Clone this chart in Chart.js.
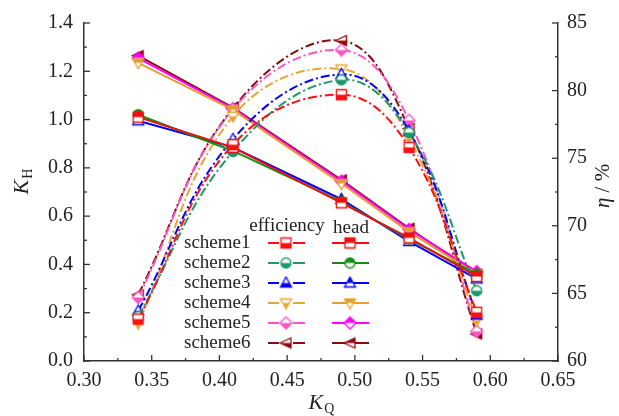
<!DOCTYPE html>
<html>
<head>
<meta charset="utf-8">
<script src="https://cdn.jsdelivr.net/npm/chart.js@4.4.0/dist/chart.umd.min.js"></script>
<style>
  html, body { margin: 0; padding: 0; background: #fff; }
  #wrap { width: 619px; height: 416px; }
</style>
</head>
<body>
<div id="wrap"><canvas id="perf" width="619" height="416"></canvas></div>
<script>
// flow coefficient K_Q at the five operating points
const kq = [0.34, 0.41, 0.49, 0.54, 0.59];

// head coefficient K_H (left axis)
const head1 = [1.01, 0.885, 0.655, 0.51, 0.35];
const head2 = [1.02, 0.87, 0.66, 0.505, 0.36];
const head3 = [0.995, 0.885, 0.67, 0.495, 0.34];
const head4 = [1.235, 1.04, 0.735, 0.535, 0.36];
const head5 = [1.255, 1.045, 0.745, 0.545, 0.37];
const head6 = [1.265, 1.05, 0.75, 0.55, 0.36];

// efficiency η in % (right axis)
const eff1 = [63.1, 76.0, 79.7, 75.8, 63.6];
const eff2 = [63.3, 75.5, 80.8, 76.9, 65.2];
const eff3 = [63.7, 76.4, 81.2, 77.0, 63.4];
const eff4 = [62.8, 78.1, 81.6, 76.5, 63.0];
const eff5 = [64.7, 78.6, 83.0, 77.8, 62.2];
const eff6 = [64.9, 78.7, 83.7, 77.2, 62.0];

const schemeNames = ["scheme1", "scheme2", "scheme3", "scheme4", "scheme5", "scheme6"];

const FONT = "'Liberation Serif', 'Times New Roman', serif";
const INK = "#222";

// half-filled symbols: efficiency filled in the lower half, head in the upper half
function makeMarker(shape, color, fillBottom) {
  const s = 15, m = s / 2, r = 5;
  const c = document.createElement("canvas");
  c.width = c.height = s;
  const g = c.getContext("2d");
  const path = () => {
    g.beginPath();
    if (shape === "square") g.rect(m - r, m - r, 2 * r, 2 * r);
    else if (shape === "circle") g.arc(m, m, r, 0, Math.PI * 2);
    else if (shape === "triUp") {
      g.moveTo(m, m - r - 1); g.lineTo(m + r + 0.5, m + r - 1); g.lineTo(m - r - 0.5, m + r - 1);
    } else if (shape === "triDown") {
      g.moveTo(m, m + r + 1); g.lineTo(m + r + 0.5, m - r + 1); g.lineTo(m - r - 0.5, m - r + 1);
    } else if (shape === "diamond") {
      g.moveTo(m, m - r - 1); g.lineTo(m + r + 1, m); g.lineTo(m, m + r + 1); g.lineTo(m - r - 1, m);
    } else if (shape === "triLeft") {
      g.moveTo(m - r - 1, m); g.lineTo(m + r, m - r); g.lineTo(m + r, m + r);
    }
    g.closePath();
  };
  path(); g.fillStyle = "#fff"; g.fill();
  g.save();
  g.beginPath(); g.rect(0, fillBottom ? m : 0, s, m); g.clip();
  path(); g.fillStyle = color; g.fill();
  g.restore();
  path(); g.strokeStyle = color; g.lineWidth = 1.3; g.stroke();
  return c;
}

const shapes = ["square", "circle", "triUp", "triDown", "diamond", "triLeft"];
const effColors = ["#ff1010", "#1a9a6a", "#0000ff", "#e6a534", "#ff55c4", "#8b0a0a"];
const headColors = ["#ee1010", "#118f11", "#0000ff", "#e2a030", "#ff00ff", "#8b0a0a"];
const heads = [head1, head2, head3, head4, head5, head6];
const effs = [eff1, eff2, eff3, eff4, eff5, eff6];
const EFF_DASH = [9, 3, 2, 3];

const toXY = (arr) => kq.map((x, i) => ({ x, y: arr[i] }));

const datasets = [];
schemeNames.forEach((name, i) => {
  datasets.push({
    label: name + " efficiency",
    data: toXY(effs[i]),
    yAxisID: "y1",
    borderColor: effColors[i],
    borderWidth: 2,
    borderDash: EFF_DASH,
    tension: 0.4,
    pointStyle: makeMarker(shapes[i], effColors[i], true),
    pointRadius: 6,
    fill: false,
  });
  datasets.push({
    label: name + " head",
    data: toXY(heads[i]),
    yAxisID: "y",
    borderColor: headColors[i],
    borderWidth: 2,
    tension: 0,
    pointStyle: makeMarker(shapes[i], headColors[i], false),
    pointRadius: 6,
    fill: false,
  });
});

// inward major/minor tick marks on the three axes
const innerTicks = {
  id: "innerTicks",
  afterDraw(chart) {
    const { ctx, chartArea: a, scales } = chart;
    ctx.save();
    ctx.strokeStyle = "#333";
    ctx.lineWidth = 1.3;
    const mark = (x1, y1, x2, y2) => { ctx.beginPath(); ctx.moveTo(x1, y1); ctx.lineTo(x2, y2); ctx.stroke(); };
    for (let k = 0; k <= 14; k++) {
      const v = 0.30 + k * 0.025;
      const px = scales.x.getPixelForValue(v);
      mark(px, a.bottom, px, a.bottom - (k % 2 ? 3 : 6));
    }
    for (let k = 0; k <= 14; k++) {
      const py = scales.y.getPixelForValue(k * 0.1);
      mark(a.left, py, a.left + (k % 2 ? 3 : 6), py);
    }
    for (let k = 0; k <= 10; k++) {
      const py = scales.y1.getPixelForValue(60 + k * 2.5);
      mark(a.right, py, a.right - (k % 2 ? 3 : 6), py);
    }
    ctx.restore();
  },
};

// axis titles with subscripts
function drawSub(ctx, main, sub, italicMain) {
  ctx.font = (italicMain ? "italic " : "") + "22px " + FONT;
  const w1 = ctx.measureText(main).width;
  ctx.font = "14px " + FONT;
  const w2 = ctx.measureText(sub).width;
  const x0 = -(w1 + w2) / 2;
  ctx.font = (italicMain ? "italic " : "") + "22px " + FONT;
  ctx.fillText(main, x0, 0);
  ctx.font = "14px " + FONT;
  ctx.fillText(sub, x0 + w1 + 1, 6);
}

const axisTitles = {
  id: "axisTitles",
  afterDraw(chart) {
    const { ctx, chartArea: a } = chart;
    ctx.save();
    ctx.fillStyle = INK;
    ctx.textBaseline = "middle";
    ctx.textAlign = "left";
    // bottom: K_Q
    ctx.save();
    ctx.translate((a.left + a.right) / 2, 403);
    drawSub(ctx, "K", "Q", true);
    ctx.restore();
    // left: K_H
    ctx.save();
    ctx.translate(22, 182);
    ctx.rotate(-Math.PI / 2);
    drawSub(ctx, "K", "H", true);
    ctx.restore();
    // right: η / %
    ctx.save();
    ctx.translate(603, 186);
    ctx.rotate(-Math.PI / 2);
    ctx.font = "italic 21px " + FONT;
    const wEta = ctx.measureText("η").width;
    ctx.font = "21px " + FONT;
    const wRest = ctx.measureText(" / %").width;
    const x0 = -(wEta + wRest) / 2;
    ctx.font = "italic 21px " + FONT;
    ctx.fillText("η", x0, 0);
    ctx.font = "21px " + FONT;
    ctx.fillText(" / %", x0 + wEta, 0);
    ctx.restore();
    ctx.restore();
  },
};

// two-column legend: efficiency / head for each scheme
const schemeLegend = {
  id: "schemeLegend",
  afterDraw(chart) {
    const { ctx } = chart;
    ctx.save();
    ctx.fillStyle = INK;
    ctx.textBaseline = "middle";
    ctx.font = "19px " + FONT;
    ctx.textAlign = "center";
    ctx.fillText("efficiency", 287, 226);
    ctx.fillText("head", 351, 228);
    schemeNames.forEach((name, i) => {
      const y = 243 + i * 20;
      const eff = chart.data.datasets[i * 2];
      const hd = chart.data.datasets[i * 2 + 1];
      ctx.textAlign = "left";
      ctx.fillStyle = INK;
      ctx.fillText(name, 184, y);
      ctx.lineWidth = 2;
      // efficiency sample
      ctx.strokeStyle = eff.borderColor;
      ctx.setLineDash([]);
      ctx.beginPath(); ctx.moveTo(268, y); ctx.lineTo(279, y); ctx.moveTo(293, y); ctx.lineTo(305, y); ctx.stroke();
      ctx.drawImage(eff.pointStyle, 286 - 7.5, y - 7.5);
      // head sample
      ctx.strokeStyle = hd.borderColor;
      ctx.beginPath(); ctx.moveTo(332, y); ctx.lineTo(369, y); ctx.stroke();
      ctx.drawImage(hd.pointStyle, 350 - 7.5, y - 7.5);
    });
    ctx.restore();
  },
};

const tickFont = { family: FONT, size: 20 };

new Chart(document.getElementById("perf"), {
  type: "line",
  data: { datasets },
  plugins: [innerTicks, axisTitles, schemeLegend],
  options: {
    responsive: false,
    animation: false,
    layout: { padding: { top: 14, left: 0, right: 0, bottom: 0 } },
    plugins: { legend: { display: false }, tooltip: { enabled: false } },
    scales: {
      x: {
        type: "linear",
        min: 0.3,
        max: 0.65,
        ticks: { stepSize: 0.05, font: tickFont, color: INK, padding: 8, callback: (v) => v.toFixed(2) },
        grid: { drawOnChartArea: false, drawTicks: false },
        border: { color: "#333", width: 1.5 },
        afterFit: (s) => { s.height = 55; },
      },
      y: {
        position: "left",
        min: 0,
        max: 1.4,
        ticks: { stepSize: 0.2, font: tickFont, color: INK, padding: 11, callback: (v) => v.toFixed(1) },
        grid: { drawOnChartArea: false, drawTicks: false },
        border: { color: "#333", width: 1.5 },
        afterFit: (s) => { s.width = 84; },
      },
      y1: {
        position: "right",
        min: 60,
        max: 85,
        ticks: { stepSize: 5, font: tickFont, color: INK, padding: 9 },
        grid: { drawOnChartArea: false, drawTicks: false },
        border: { color: "#333", width: 1.5 },
        afterFit: (s) => { s.width = 61; },
      },
    },
  },
});
</script>
</body>
</html>
